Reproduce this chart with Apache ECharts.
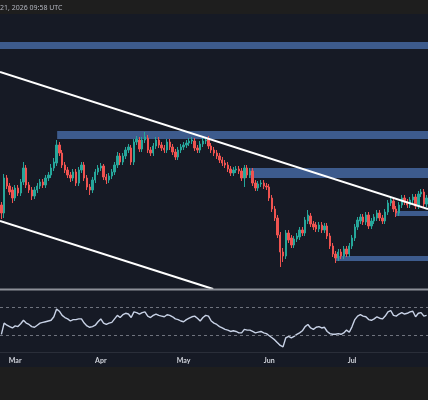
<!DOCTYPE html>
<html><head><meta charset="utf-8">
<script src="https://cdn.jsdelivr.net/npm/echarts@6/dist/echarts.min.js"></script>
<style>html,body{margin:0;padding:0;background:#161a25;overflow:hidden}#c{width:428px;height:400px}</style>
</head><body><div id="c"></div>
<script>
// ---- data ----
const headerText = '21, 2026 09:58 UTC';
const startDate = [2026, 1, 24]; // Feb 24, 2026 (month 0-based)
const dayCount = 155;
const monthNames = ['Jan','Feb','Mar','Apr','May','Jun','Jul','Aug','Sep','Oct','Nov','Dec'];
// [open, close, low, high]
const candles = [
[2840,2760,2700,2870],[2760,3110,2710,3150],[3110,3030,3000,3140],[3030,2970,2940,3060],[2990,2910,2860,3020],
[2910,3010,2880,3040],[3010,2960,2930,3040],[2960,3070,2930,3100],[3070,3210,3040,3270],[3210,3040,3010,3240],
[3040,2990,2960,3070],[2990,2930,2890,3020],[2930,2990,2900,3020],[2990,3030,2960,3060],[3030,3070,3000,3100],
[3070,3040,3010,3100],[3040,3110,3010,3140],[3110,3140,3080,3170],[3140,3210,3110,3250],[3210,3270,3180,3310],
[3260,3440,3230,3490],[3440,3360,3330,3470],[3360,3240,3210,3390],[3240,3190,3160,3270],[3190,3140,3110,3220],
[3140,3110,3070,3170],[3110,3170,3080,3200],[3170,3060,3030,3200],[3060,3190,3030,3220],[3190,3240,3160,3270],
[3240,3110,3080,3270],[3110,3020,2990,3140],[3020,2990,2940,3050],[2990,3090,2960,3120],[3090,3170,3060,3200],
[3170,3210,3140,3240],[3210,3230,3180,3260],[3230,3120,3090,3250],[3120,3090,3050,3150],[3090,3130,3060,3160],
[3130,3170,3100,3200],[3170,3240,3140,3270],[3240,3330,3210,3370],[3330,3270,3240,3360],[3270,3330,3240,3360],
[3330,3390,3300,3420],[3390,3420,3360,3450],[3410,3270,3240,3440],[3270,3470,3240,3500],[3470,3500,3440,3530],
[3490,3400,3370,3520],[3400,3490,3370,3520],[3490,3520,3460,3570],[3510,3390,3360,3540],[3390,3360,3330,3420],
[3360,3430,3330,3460],[3430,3490,3400,3520],[3490,3440,3410,3520],[3440,3410,3380,3470],[3410,3390,3360,3440],
[3390,3470,3360,3500],[3470,3420,3390,3500],[3420,3370,3340,3450],[3370,3320,3290,3400],[3320,3390,3290,3420],
[3390,3420,3360,3450],[3420,3440,3390,3470],[3440,3460,3410,3490],[3460,3480,3430,3510],[3480,3490,3450,3520],
[3480,3410,3380,3510],[3410,3390,3360,3440],[3390,3450,3360,3480],[3450,3480,3420,3510],[3480,3490,3450,3520],
[3500,3430,3400,3530],[3430,3390,3360,3460],[3390,3360,3330,3420],[3360,3330,3300,3390],[3330,3290,3260,3360],
[3290,3260,3230,3320],[3260,3240,3210,3290],[3240,3200,3170,3270],[3200,3160,3130,3230],[3160,3190,3130,3220],
[3190,3200,3160,3230],[3200,3180,3150,3230],[3180,3110,3080,3210],[3110,3210,3020,3240],[3210,3140,3110,3240],
[3140,3180,3110,3210],[3180,3060,3030,3210],[3060,3010,2980,3090],[3010,3050,2980,3080],[3050,3060,3020,3090],
[3060,3030,3000,3090],[3030,3020,2990,3060],[3020,2910,2880,3050],[2910,2800,2770,2940],[2800,2710,2680,2830],
[2710,2540,2510,2740],[2540,2370,2220,2570],[2370,2330,2270,2410],[2330,2560,2300,2590],[2560,2490,2460,2590],
[2510,2440,2410,2540],[2440,2500,2410,2530],[2500,2530,2470,2560],[2520,2590,2490,2620],[2590,2560,2530,2620],
[2560,2690,2530,2720],[2680,2740,2650,2790],[2730,2650,2620,2760],[2650,2620,2590,2680],[2640,2600,2570,2670],
[2600,2640,2570,2670],[2640,2590,2560,2670],[2590,2630,2560,2660],[2630,2530,2500,2660],[2530,2430,2400,2560],
[2430,2350,2320,2460],[2350,2310,2260,2380],[2310,2370,2280,2400],[2370,2330,2300,2400],[2330,2400,2300,2430],
[2400,2350,2320,2430],[2350,2430,2320,2460],[2430,2510,2400,2540],[2510,2620,2480,2650],[2620,2690,2590,2720],
[2680,2720,2650,2750],[2720,2670,2640,2750],[2670,2740,2640,2770],[2740,2630,2600,2770],[2630,2680,2600,2710],
[2680,2720,2650,2750],[2710,2760,2680,2790],[2760,2710,2680,2790],[2710,2680,2650,2740],[2680,2770,2650,2800],
[2770,2860,2740,2890],[2860,2890,2830,2920],[2880,2800,2770,2910],[2800,2760,2720,2830],[2760,2840,2730,2870],
[2840,2910,2810,2940],[2910,2870,2840,2940],[2870,2840,2810,2900],[2840,2890,2810,2920],[2890,2920,2860,2950],
[2920,2830,2800,2950],[2830,2950,2800,2980],[2950,2970,2920,3000],[2970,2850,2820,3000],[2850,2910,2820,2940]
];
const rsi = [
31,47,44,42,40,43,42,46,51,47,45,42,41,44,47,48,49,50,51,56,
67,64,58,55,53,50,52,52,53,53,47,43,41,42,44,49,53,47,45,47,
48,53,58,55,59,61,60,55,63,62,60,62,63,57,55,58,60,58,57,56,
59,58,56,53,52,50,49,52,54,56,57,54,50,55,58,57,50,47,45,42,
40,38,37,35,36,35,33,33,38,37,37,35,33,34,35,33,32,29,26,23,
19,15,13,26,28,26,28,31,33,36,42,45,40,38,41,42,40,41,35,32,
31,31,32,31,33,37,34,42,52,57,59,57,56,52,51,53,56,54,53,57,
63,65,58,57,60,62,60,61,63,64,56,61,62,57,58
];
const rsiLevels = [70, 30];
// zones: [start index, low price, high price]
const zones = [[-0.5,4400,4470],[20.2,3500,3580],[90.1,3110,3210],[142.6,2730,2780],[120.9,2280,2330]];
const upperTrend = [[-0.5,4170],[154.5,2800]];
const lowerTrend = [[-0.5,2680],[76.7,2000]];

// ---- chart ----
const categories = [];
const t0 = Date.UTC(startDate[0], startDate[1], startDate[2]);
for (let i = 0; i < dayCount; i++) categories.push(new Date(t0 + i * 86400000).toISOString().slice(0, 10));

const chart = echarts.init(document.getElementById('c'), null, {renderer: 'canvas'});
const up = '#26a69a', down = '#ef5350';
chart.setOption({
  animation: false,
  backgroundColor: '#161a25',
  grid: [
    {left: 0, right: 0, top: 14, bottom: 111},
    {left: 0, right: 0, top: 290, bottom: 48}
  ],
  xAxis: [
    {type: 'category', gridIndex: 0, data: categories, boundaryGap: true,
     axisLine: {show: false}, axisTick: {show: false}, axisLabel: {show: false}, splitLine: {show: false}},
    {type: 'category', gridIndex: 1, data: categories, boundaryGap: true,
     axisLine: {show: false}, axisTick: {show: false}, splitLine: {show: false},
     axisLabel: {show: true, interval: (i, v) => v.slice(8) === '01',
       formatter: v => monthNames[+v.slice(5, 7) - 1],
       color: '#d1d4dc', fontSize: 7, fontWeight: 'bold', fontFamily: 'Lato', margin: 5}},
    {type: 'value', gridIndex: 0, min: -0.5, max: dayCount - 0.5, show: false}
  ],
  yAxis: [
    {type: 'value', gridIndex: 0, min: 2000, max: 4750, show: false},
    {type: 'value', gridIndex: 1, min: 5.7, max: 94.3, show: false}
  ],
  series: [
    {type: 'line', xAxisIndex: 2, yAxisIndex: 0, data: [], z: 1, silent: true,
     markArea: {silent: true, itemStyle: {color: '#3d5b8d'},
       data: zones.map(z => [{coord: [z[0], z[2]]}, {coord: [dayCount - 0.5, z[1]]}])}},
    {type: 'candlestick', xAxisIndex: 0, yAxisIndex: 0, data: candles, barWidth: '68%', z: 2,
     itemStyle: {color: up, color0: down, borderColor: up, borderColor0: down, borderWidth: 1}},
    {type: 'line', xAxisIndex: 2, yAxisIndex: 0, data: upperTrend, symbol: 'none', z: 3,
     lineStyle: {color: '#ffffff', width: 2}},
    {type: 'line', xAxisIndex: 2, yAxisIndex: 0, data: lowerTrend, symbol: 'none', z: 3,
     lineStyle: {color: '#ffffff', width: 2}},
    {type: 'line', xAxisIndex: 1, yAxisIndex: 1, data: rsi, symbol: 'none', z: 3,
     lineStyle: {color: '#c8d2e6', width: 1.4},
     markLine: {silent: true, symbol: 'none', label: {show: false},
       lineStyle: {color: '#6f737e', type: [3, 3], width: 1},
       data: rsiLevels.map(v => ({yAxis: v}))}}
  ],
  graphic: [
    {type: 'rect', shape: {x: 0, y: 0, width: 428, height: 14}, style: {fill: '#1e1e1e'}, z: 10},
    {type: 'text', x: 0, y: 8, z: 11, style: {text: headerText, fill: '#b2b5be', font: '7px "Noto Sans"', verticalAlign: 'middle', textAlign: 'left'}},
    {type: 'line', shape: {x1: 0, y1: 289.5, x2: 428, y2: 289.5}, style: {stroke: '#8c8f98', lineWidth: 2}, z: 10},
    {type: 'line', shape: {x1: 0, y1: 352.5, x2: 428, y2: 352.5}, style: {stroke: '#2a2e39', lineWidth: 1}, z: 10},
    {type: 'rect', shape: {x: 0, y: 367, width: 428, height: 33}, style: {fill: '#1e1e1e'}, z: 10}
  ]
});
</script></body></html>
